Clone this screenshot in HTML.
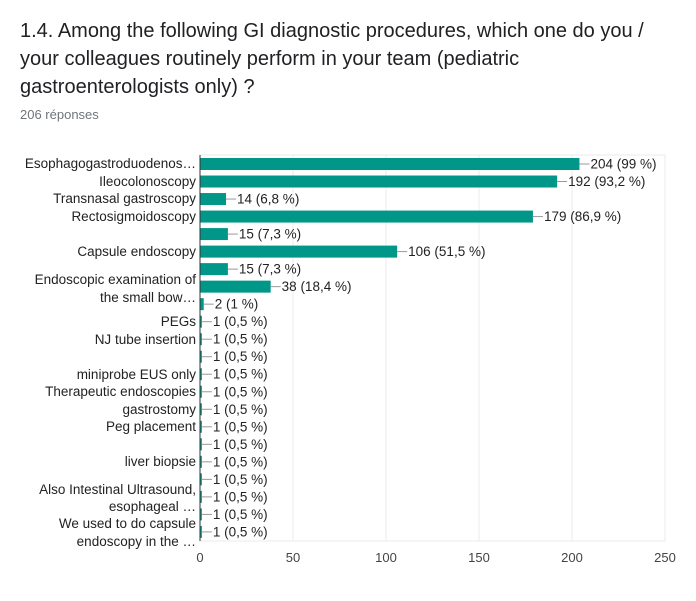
<!DOCTYPE html>
<html><head><meta charset="utf-8"><style>
body{margin:0;background:#fff;width:696px;height:596px;overflow:hidden;font-family:"Liberation Sans",Arial,sans-serif}
</style></head><body>
<svg width="696" height="596" xmlns="http://www.w3.org/2000/svg" font-family="Liberation Sans, Arial, sans-serif">
<text x="20" y="37" font-size="20" fill="#202124">1.4. Among the following GI diagnostic procedures, which one do you /</text>
<text x="20" y="65" font-size="20" fill="#202124">your colleagues routinely perform in your team (pediatric</text>
<text x="20" y="93" font-size="20" fill="#202124">gastroenterologists only) ?</text>
<text x="20" y="119" font-size="13" fill="#70757a">206 réponses</text>
<g stroke="#ebebeb" stroke-width="1">
<line x1="293" y1="155" x2="293" y2="541"/><line x1="386" y1="155" x2="386" y2="541"/>
<line x1="479" y1="155" x2="479" y2="541"/><line x1="572" y1="155" x2="572" y2="541"/>
<line x1="665" y1="155" x2="665" y2="541"/><line x1="200" y1="155" x2="665" y2="155"/>
<line x1="200" y1="541" x2="665" y2="541"/>
</g>
<g id="bars"></g>
<line x1="200" y1="155" x2="200" y2="541" stroke="#333" stroke-width="1"/>
<g font-size="13" fill="#444" text-anchor="middle">
<text x="200" y="562">0</text><text x="293" y="562">50</text><text x="386" y="562">100</text>
<text x="479" y="562">150</text><text x="572" y="562">200</text><text x="665" y="562">250</text>
</g>
<g font-size="13.5" fill="#222" text-anchor="end">
<text x="196" y="168">Esophagogastroduodenos…</text>
<text x="196" y="186">Ileocolonoscopy</text>
<text x="196" y="203">Transnasal gastroscopy</text>
<text x="196" y="221">Rectosigmoidoscopy</text>
<text x="196" y="256">Capsule endoscopy</text>
<text x="196" y="284">Endoscopic examination of</text>
<text x="196" y="302">the small bow…</text>
<text x="196" y="326">PEGs</text>
<text x="196" y="344">NJ tube insertion</text>
<text x="196" y="379">miniprobe EUS only</text>
<text x="196" y="396">Therapeutic endoscopies</text>
<text x="196" y="414">gastrostomy</text>
<text x="196" y="431">Peg placement</text>
<text x="196" y="466">liver biopsie</text>
<text x="196" y="494">Also Intestinal Ultrasound,</text>
<text x="196" y="511">esophageal …</text>
<text x="196" y="528">We used to do capsule</text>
<text x="196" y="546">endoscopy in the …</text>
</g>
<g id="vals" font-size="13.5" fill="#222"></g>
<script>
var d=[[204,"99 %"],[192,"93,2 %"],[14,"6,8 %"],[179,"86,9 %"],[15,"7,3 %"],[106,"51,5 %"],[15,"7,3 %"],[38,"18,4 %"],[2,"1 %"]];
for(var i=0;i<13;i++)d.push([1,"0,5 %"]);
var ns="http://www.w3.org/2000/svg",b=document.getElementById("bars"),v=document.getElementById("vals");
d.forEach(function(r,i){var y=164+i*17.52,w=r[0]*1.86;
var e=document.createElementNS(ns,"rect");e.setAttribute("x",200);e.setAttribute("y",y-6);e.setAttribute("width",w);e.setAttribute("height",12);e.setAttribute("fill","#009688");b.appendChild(e);
var l=document.createElementNS(ns,"line");l.setAttribute("x1",200+w);l.setAttribute("x2",210+w);l.setAttribute("y1",y);l.setAttribute("y2",y);l.setAttribute("stroke","#999");b.appendChild(l);
var t=document.createElementNS(ns,"text");t.setAttribute("x",211+w);t.setAttribute("y",y+4.5);t.textContent=r[0]+" ("+r[1]+")";v.appendChild(t);});
</script>
</svg>
</body></html>
